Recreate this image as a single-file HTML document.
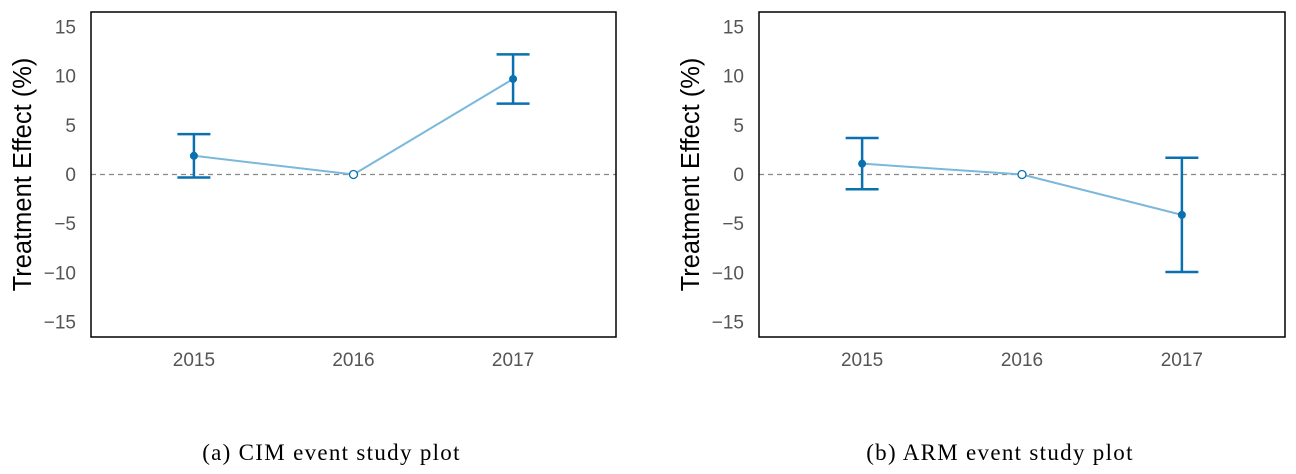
<!DOCTYPE html>
<html><head><meta charset="utf-8"><style>
body{margin:0;background:#fff;width:1296px;height:474px;overflow:hidden}
svg{display:block}
</style></head><body>
<svg id="chart" width="1296" height="474" font-family="Liberation Sans, sans-serif"></svg>
<script>
const years = [2015, 2016, 2017];
const cimEst = [1.9, 0, 9.7];
const cimLo = [-0.3, 0, 7.2];
const cimHi = [4.1, 0, 12.2];
const armEst = [1.1, 0, -4.1];
const armLo = [-1.5, 0, -9.9];
const armHi = [3.7, 0, 1.7];
const yTicks = [15, 10, 5, 0, -5, -10, -15];
const yTickLabels = ["15", "10", "5", "0", "\u22125", "\u221210", "\u221215"];
const captions = ["(a) CIM event study plot", "(b) ARM event study plot"];

const NS = "http://www.w3.org/2000/svg";
const svg = document.getElementById("chart");
function mk(tag, attrs, parent) {
  const e = document.createElementNS(NS, tag);
  for (const k in attrs) e.setAttribute(k, attrs[k]);
  (parent || svg).appendChild(e);
  return e;
}
const panels = [
  {x0: 91, x1: 616, est: cimEst, lo: cimLo, hi: cimHi, name: "cim"},
  {x0: 759, x1: 1285, est: armEst, lo: armLo, hi: armHi, name: "arm"}
];
const yTop = 12, yBot = 337;
const yMin = -16.5, yMax = 16.5;
function yS(v) { return yBot - (v - yMin) / (yMax - yMin) * (yBot - yTop); }

panels.forEach((p, pi) => {
  const g = mk("g", {});
  
  
  const xMin = years[0] - 0.645, xMax = years[years.length - 1] + 0.645;
  const xS = v => p.x0 + (v - xMin) / (xMax - xMin) * (p.x1 - p.x0);
  const z = mk("line", {x1: p.x0, x2: p.x1, y1: yS(0), y2: yS(0), stroke: "#888", "stroke-width": 1.3, "stroke-dasharray": "5,4"}, g);
  
  
  yTicks.forEach((t, i) => {
    const tx = mk("text", {x: p.x0 - 15, y: yS(t) + 6.5, "text-anchor": "end", "font-size": 19, fill: "#555"}, g);
    tx.textContent = yTickLabels[i];
    
    
  });
  years.forEach(yr => {
    const tx = mk("text", {x: xS(yr), y: 366, "text-anchor": "middle", "font-size": 19, fill: "#555"}, g);
    tx.textContent = yr;
    
    
  });
  const cy = (yTop + yBot) / 2, tx0 = p.x0 - 60;
  const yt = mk("text", {x: tx0, y: cy, transform: `rotate(-90 ${tx0} ${cy})`, "text-anchor": "middle", "font-size": 25.5, fill: "#000"}, g);
  yt.textContent = "Treatment Effect (%)";
  
  
  const pts = years.map((yr, i) => xS(yr) + "," + yS(p.est[i])).join(" ");
  const pl = mk("polyline", {points: pts, fill: "none", stroke: "#7ab8dc", "stroke-width": 2}, g);
  
  
  years.forEach((yr, i) => {
    const x = xS(yr);
    if (p.lo[i] !== p.hi[i]) {
      const eb = mk("g", {stroke: "#0a70b0", "stroke-width": 2.5}, g);
      
      
      mk("line", {x1: x, x2: x, y1: yS(p.lo[i]), y2: yS(p.hi[i])}, eb);
      mk("line", {x1: x - 16.5, x2: x + 16.5, y1: yS(p.lo[i]), y2: yS(p.lo[i])}, eb);
      mk("line", {x1: x - 16.5, x2: x + 16.5, y1: yS(p.hi[i]), y2: yS(p.hi[i])}, eb);
      const c = mk("circle", {cx: x, cy: yS(p.est[i]), r: 4, fill: "#0a70b0"}, g);
      
      
    } else {
      const c = mk("circle", {cx: x, cy: yS(p.est[i]), r: 4, fill: "#fff", stroke: "#0a70b0", "stroke-width": 1.3}, g);
      
      
    }
  });
  const r = mk("rect", {x: p.x0, y: yTop, width: p.x1 - p.x0, height: yBot - yTop, fill: "none", stroke: "#000", "stroke-width": 1.5}, g);
  
  
  const cap = mk("text", {x: (p.x0 + p.x1) / 2 - 22, y: 460, "text-anchor": "middle", "font-size": 23, "letter-spacing": "1.3", fill: "#000", "font-family": "Liberation Serif, serif"}, g);
  cap.textContent = captions[pi];
  
  
});
</script>
</body></html>
